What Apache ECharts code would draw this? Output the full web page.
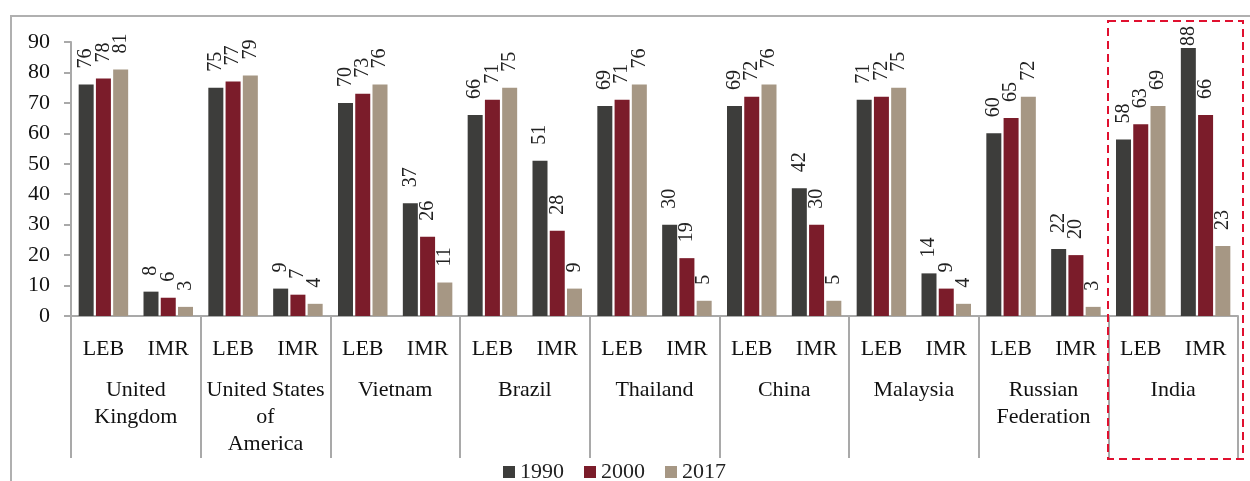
<!DOCTYPE html>
<html>
<head>
<meta charset="utf-8">
<script src="https://cdn.jsdelivr.net/npm/echarts@6/dist/echarts.min.js"></script>
<style>
    html, body { margin: 0; padding: 0; background: #fff; }
    #chart { width: 1250px; height: 481px; }
</style>
</head>
<body>
<div id="chart"></div>
<script>
// 指标 / 国家
var indicators = ['LEB', 'IMR', 'LEB', 'IMR', 'LEB', 'IMR', 'LEB', 'IMR', 'LEB', 'IMR',
    'LEB', 'IMR', 'LEB', 'IMR', 'LEB', 'IMR', 'LEB', 'IMR'];
var countries = ['United\nKingdom', 'United States\nof\nAmerica', 'Vietnam', 'Brazil',
    'Thailand', 'China', 'Malaysia', 'Russian\nFederation', 'India'];
var seriesNames = ['1990', '2000', '2017'];
var yTicks = [0, 10, 20, 30, 40, 50, 60, 70, 80, 90];

var values1990 = [76, 8, 75, 9, 70, 37, 66, 51, 69, 30, 69, 42, 71, 14, 60, 22, 58, 88];
var values2000 = [78, 6, 77, 7, 73, 26, 71, 28, 71, 19, 72, 30, 72, 9, 65, 20, 63, 66];
var values2017 = [81, 3, 79, 4, 76, 11, 75, 9, 76, 5, 76, 5, 75, 4, 72, 3, 69, 23];

var colors = ['#3d3d3b', '#7b1c2a', '#a69784'];
var serif = 'Liberation Serif, Times New Roman, serif';
var axisGray = '#a9a9a9';

function makeSeries(name, values, idx) {
    return {
        name: name,
        type: 'bar',
        barWidth: 15,
        barGap: '15%',
        itemStyle: { color: colors[idx] },
        data: values.map(function (v) {
            // 顶部放不下的标签贴近柱顶
            return { value: v, label: { distance: v > 85 ? 2 : 16 } };
        }),
        label: {
            show: true,
            position: 'top',
            rotate: 90,
            align: 'left',
            verticalAlign: 'middle',
            fontFamily: serif,
            fontSize: 20,
            color: '#222'
        }
    };
}

var chart = echarts.init(document.getElementById('chart'));

var option = {
    animation: false,
    color: colors,
    grid: { left: 71, right: 12, top: 42, bottom: 165 },
    legend: {
        data: seriesNames,
        left: 498,
        top: 456,
        itemWidth: 12,
        itemHeight: 12,
        itemGap: 20,
        icon: 'rect',
        textStyle: { fontFamily: serif, fontSize: 22, color: '#222' }
    },
    xAxis: [
        {
            type: 'category',
            data: indicators,
            position: 'bottom',
            axisLine: { show: true, lineStyle: { color: axisGray, width: 2 } },
            axisTick: { show: false },
            axisLabel: { interval: 0, margin: 22, fontFamily: serif, fontSize: 22, color: '#111' }
        },
        {
            type: 'category',
            data: countries,
            position: 'bottom',
            axisLine: { show: false },
            axisTick: { show: true, length: 142, interval: 0, lineStyle: { color: axisGray, width: 2 } },
            axisLabel: { interval: 0, margin: 61, fontFamily: serif, fontSize: 22, lineHeight: 27, color: '#111' }
        }
    ],
    yAxis: {
        type: 'value',
        min: yTicks[0],
        max: yTicks[yTicks.length - 1],
        interval: 10,
        axisLine: { show: true, lineStyle: { color: axisGray, width: 2 } },
        axisTick: { show: true, length: 7, lineStyle: { color: axisGray, width: 2 } },
        splitLine: { show: false },
        axisLabel: { margin: 21, fontFamily: serif, fontSize: 22, color: '#111' }
    },
    graphic: [
        {
            type: 'rect',
            shape: { x: 11, y: 16, width: 1260, height: 480 },
            style: { fill: 'none', stroke: '#b0b0b0', lineWidth: 2 },
            silent: true
        },
        {
            type: 'rect',
            shape: { x: 1108, y: 21, width: 135, height: 438 },
            style: { fill: 'none', stroke: '#e0102f', lineWidth: 2, lineDash: [8, 5] },
            silent: true,
            z: 10
        }
    ],
    series: [
        makeSeries(seriesNames[0], values1990, 0),
        makeSeries(seriesNames[1], values2000, 1),
        makeSeries(seriesNames[2], values2017, 2)
    ]
};

chart.setOption(option);
</script>
</body>
</html>
